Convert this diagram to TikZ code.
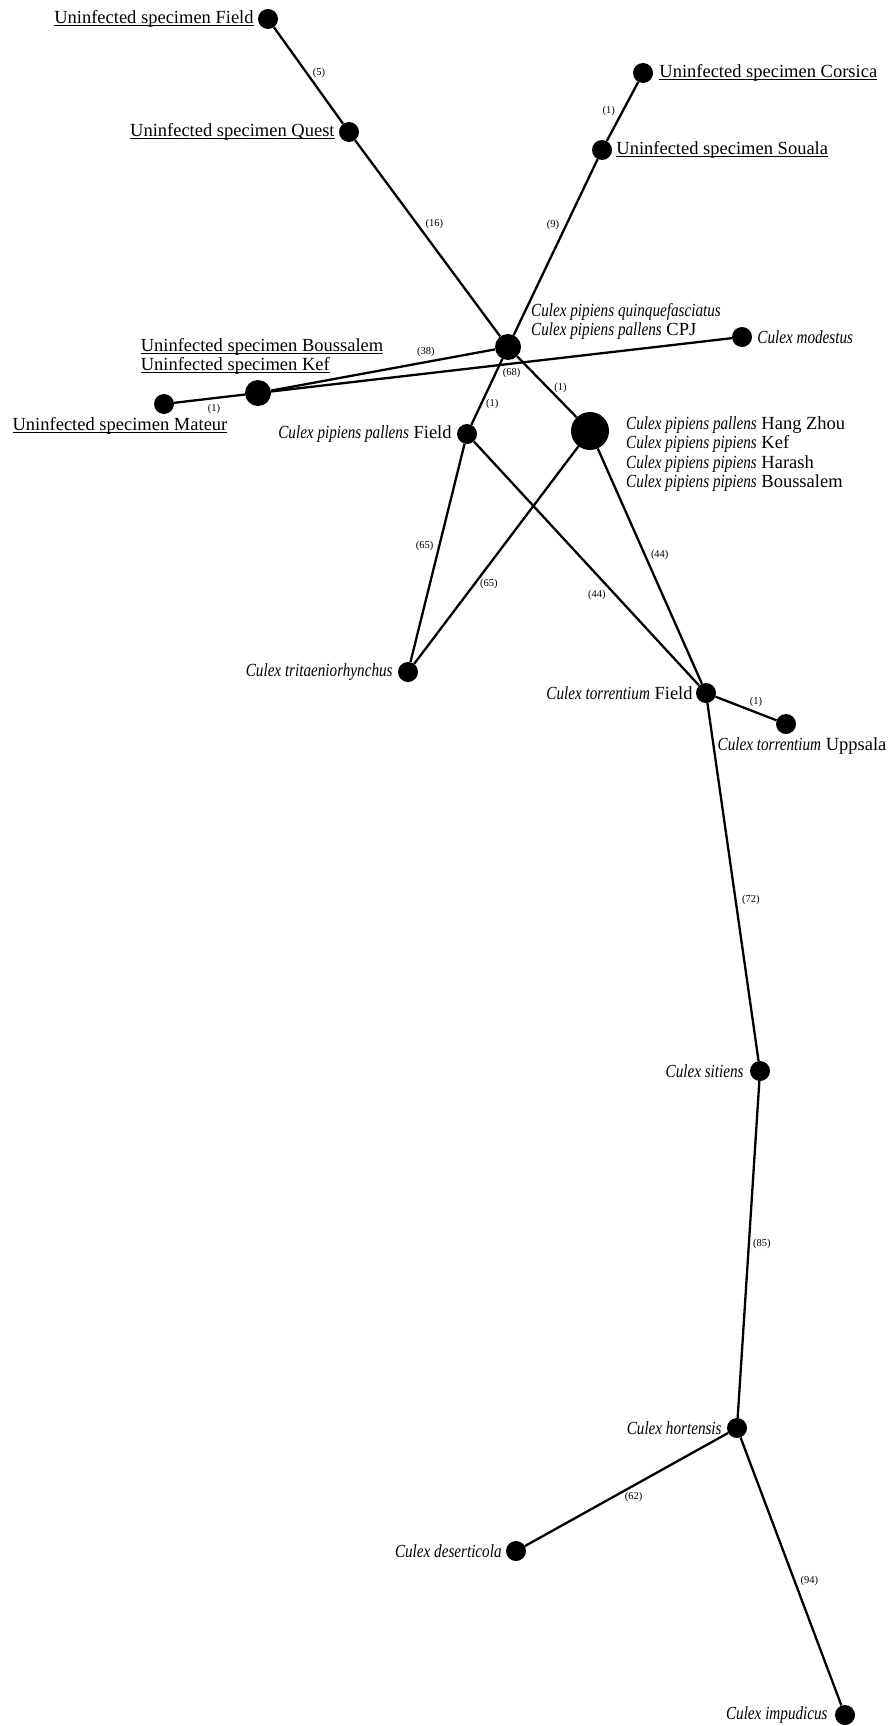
\documentclass[tikz,border=0pt]{standalone}
\usepackage{fontspec}
\setmainfont{Liberation Serif}
\usepackage{graphicx}
\newcommand\cul[1]{\scalebox{0.82}[1]{\itshape #1}}
\newcommand\unl[1]{\setbox0=\hbox{#1}\rlap{\rule[-2.6pt]{\wd0}{0.9pt}}\box0}
\begin{document}
\begin{tikzpicture}[x=1pt,y=-1pt,
  dot/.style={circle,fill=black,inner sep=0pt,minimum size=20pt},
  hubdot/.style={dot,minimum size=26pt},
  bigdot/.style={dot,minimum size=38pt},
  lab/.style={inner sep=0pt,font=\fontsize{18.5}{19.6}\selectfont,align=left},
  edge/.style={line width=2.3pt},
  wt/.style={inner sep=0pt,font=\fontsize{10.5}{12}\selectfont}]
\useasboundingbox (0,0) rectangle (890,1726);
% nodes
\node[dot] (uf) at (268,19) {};
\node[dot] (uq) at (349,132) {};
\node[dot] (uc) at (643,73) {};
\node[dot] (us) at (602,150) {};
\node[hubdot] (hub) at (508,347) {};
\node[dot] (mod) at (742,337) {};
\node[bigdot] (big) at (590,431) {};
\node[dot] (cpf) at (467,434) {};
\node[hubdot] (kef) at (258,393) {};
\node[dot] (mat) at (164,404) {};
\node[dot] (tri) at (408,672) {};
\node[dot] (tf) at (706,693) {};
\node[dot] (upp) at (786,724) {};
\node[dot] (sit) at (760,1071) {};
\node[dot] (hor) at (737,1428) {};
\node[dot] (des) at (516,1551) {};
\node[dot] (imp) at (845,1715) {};
% labels
\node[lab,anchor=east] (tuf) at ([xshift=-4pt]uf.west) {\unl{Uninfected specimen Field}};
\node[lab,anchor=east] (tuq) at ([xshift=-4pt]uq.west) {\unl{Uninfected specimen Quest}};
\node[lab,anchor=west] (tuc) at ([xshift=6pt]uc.east) {\unl{Uninfected specimen Corsica}};
\node[lab,anchor=west] (tus) at ([xshift=4pt]us.east) {\unl{Uninfected specimen Souala}};
\node[lab,anchor=south] (tkef) at ([xshift=4pt,yshift=5pt]kef.north) {\unl{Uninfected specimen Boussalem}\\\unl{Uninfected specimen Kef}};
\node[lab,anchor=north] (tmat) at ([xshift=-44pt,yshift=-3pt]mat.south) {\unl{Uninfected specimen Mateur}};
\node[lab,anchor=south west] (thub) at ([xshift=23pt,yshift=7pt]hub.center) {\cul{Culex pipiens quinquefasciatus}\\\cul{Culex pipiens pallens} CPJ};
\node[lab,anchor=west] (tmod) at ([xshift=5pt]mod.east) {\cul{Culex modestus}};
\node[lab,anchor=north west] (tbig) at ([xshift=36pt,yshift=15pt]big.center) {\cul{Culex pipiens pallens} Hang Zhou\\\cul{Culex pipiens pipiens} Kef\\\cul{Culex pipiens pipiens} Harash\\\cul{Culex pipiens pipiens} Boussalem};
\node[lab,anchor=east] (tcpf) at ([xshift=-5pt]cpf.west) {\cul{Culex pipiens pallens} Field};
\node[lab,anchor=east] (ttri) at ([xshift=-5pt]tri.west) {\cul{Culex tritaeniorhynchus}};
\node[lab,anchor=east] (ttf) at ([xshift=-3pt]tf.west) {\cul{Culex torrentium} Field};
\node[lab,anchor=north] (tupp) at ([xshift=16pt,yshift=-3pt]upp.south) {\cul{Culex torrentium} Uppsala};
\node[lab,anchor=east] (tsit) at ([xshift=-6pt]sit.west) {\cul{Culex sitiens}};
\node[lab,anchor=east] (thor) at ([xshift=-5pt]hor.west) {\cul{Culex hortensis}};
\node[lab,anchor=east] (tdes) at ([xshift=-4pt]des.west) {\cul{Culex deserticola}};
\node[lab,anchor=east] (timp) at ([xshift=-7pt]imp.west) {\cul{Culex impudicus}};
% edges
\draw[edge] (uf) -- node[wt,pos=0.535,xshift=8pt,yshift=6pt]{(5)} (uq);
\draw[edge] (uq) -- node[wt,pos=0.47,xshift=11pt,yshift=8pt]{(16)} (hub);
\draw[edge] (uc) -- node[wt,pos=0.59,xshift=-11pt,yshift=6pt]{(1)} (us);
\draw[edge] (us) -- node[wt,pos=0.40,xshift=-11pt,yshift=5pt]{(9)} (hub);
\draw[edge] (hub) -- node[wt,pos=0.30,xshift=-2pt,yshift=10pt]{(38)} (kef);
\draw[edge] (kef) -- node[wt,pos=0.45,xshift=1pt,yshift=-11pt]{(1)} (mat);
\draw[edge] (kef) -- node[wt,pos=0.52,xshift=1pt,yshift=-9pt]{(68)} (mod);
\draw[edge] (hub) -- node[wt,pos=0.62,xshift=9pt,yshift=-4pt]{(1)} (cpf);
\draw[edge] (hub) -- node[wt,pos=0.61,xshift=7pt,yshift=6pt]{(1)} (big);
\draw[edge] (cpf) -- node[wt,pos=0.48,xshift=-14pt,yshift=3pt]{(65)} (tri);
\draw[edge] (big) -- node[wt,pos=0.60,xshift=9pt,yshift=-7pt]{(65)} (tri);
\draw[edge] (cpf) -- node[wt,pos=0.59,xshift=-10pt,yshift=-10pt]{(44)} (tf);
\draw[edge] (big) -- node[wt,pos=0.48,xshift=12pt,yshift=6pt]{(44)} (tf);
\draw[edge] (tf) -- node[wt,pos=0.60,xshift=4pt,yshift=9pt]{(1)} (upp);
\draw[edge] (tf) -- node[wt,pos=0.556,xshift=15pt,yshift=2pt]{(72)} (sit);
\draw[edge] (sit) -- node[wt,pos=0.485,xshift=13pt]{(85)} (hor);
\draw[edge] (hor) -- node[wt,pos=0.49,xshift=5pt,yshift=-9pt]{(62)} (des);
\draw[edge] (hor) -- node[wt,pos=0.554,xshift=13pt,yshift=5pt]{(94)} (imp);
\end{tikzpicture}
\end{document}
